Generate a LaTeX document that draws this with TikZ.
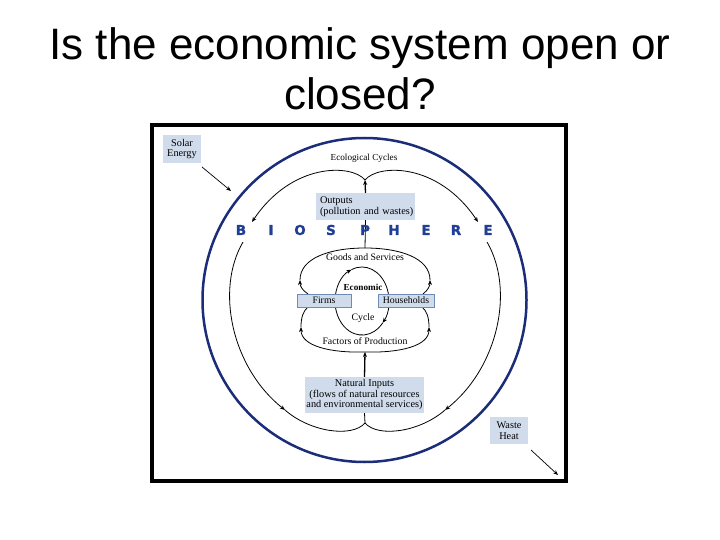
\documentclass[tikz,border=0pt]{standalone}
\usepackage{fontspec}
\setmainfont{Liberation Serif}
\newfontfamily\titlefont{Liberation Sans}
\newfontfamily\biofont{DejaVu Sans}[BoldFeatures={FakeBold=1.5}]
\usetikzlibrary{arrows.meta}
\definecolor{boxfill}{HTML}{D0DCEC}
\definecolor{ringblue}{HTML}{1B2D78}
\definecolor{bioblue}{HTML}{1F3E96}
\definecolor{boxedge}{HTML}{6E8BB5}
\begin{document}
\begin{tikzpicture}[x=1pt,y=-1pt,
  flow/.style={line width=0.8pt},
  heavy/.style={line width=1.3pt},
  tip/.style={-{Stealth[length=5pt,width=4pt]}},
  lbl/.style={font=\fontsize{9.8}{10.5}\selectfont, inner sep=0pt},
  infobox/.style={fill=boxfill, inner sep=0pt, align=center, font=\fontsize{10.3}{10.5}\selectfont},
  ecobox/.style={fill=boxfill, draw=boxedge, line width=0.6pt, inner sep=0pt, font=\fontsize{9.8}{10.5}\selectfont},
  bioletter/.style={font=\biofont\bfseries\fontsize{13.5}{13.5}\selectfont, text=bioblue, inner sep=0pt},
  titletext/.style={font=\titlefont\fontsize{44}{50}\selectfont, inner sep=0pt, anchor=base}]
\useasboundingbox (0,0) rectangle (720,540);
\fill[white] (0,0) rectangle (720,540);

% title
\node[titletext] (title1) at (360,60) {Is the economic system open or};
\node[titletext] (title2) at (360,110) {closed?};

% frame and biosphere ring
\draw[line width=3.5pt] (152,125) rectangle (566,481);
\draw[ringblue, line width=2.5pt] (364.5,300) circle[radius=162];

% key points of the ecological loop
\coordinate (cT) at (365,180);
\coordinate (cB) at (365,423);
\coordinate (aTL) at (252,222);
\coordinate (aTR) at (478,222);
\coordinate (sL) at (243,242);
\coordinate (sR) at (487,242);
\coordinate (aBL) at (285,410);
\coordinate (aBR) at (445,410);
\coordinate (eT) at (365,248);
\coordinate (eB) at (365,352);

% ecological cycle loop
\draw[flow,tip] (cT) .. controls (352,164) and (292,162) .. (aTL);
\draw[flow,tip] (cT) .. controls (378,164) and (438,162) .. (aTR);
\draw[flow,tip] (sL) .. controls (215,290) and (232,368) .. (aBL);
\draw[flow,tip] (sR) .. controls (515,290) and (498,368) .. (aBR);
\draw[flow] (aBL) .. controls (310,432) and (352,438) .. (cB);
\draw[flow] (aBR) .. controls (420,432) and (378,438) .. (cB);

% labels
\node[lbl, font=\fontsize{9.2}{10}\selectfont] (eco) at (364,158) {Ecological Cycles};
\node[infobox, minimum width=99pt, minimum height=27pt, text width=97pt, align=left] (outputs) at (365.5,206.5) {\hspace*{3pt}Outputs\\\hspace*{3pt}(pollution and wastes)};
\draw[heavy,tip] (outputs.north) -- (cT);
\draw[flow] (outputs.south) -- (eT);

% BIOSPHERE
\node[bioletter] (b1) at (241,230) {B};
\node[bioletter] (b2) at (271,230) {I};
\node[bioletter] (b3) at (300,230) {O};
\node[bioletter] (b4) at (331,230) {S};
\node[bioletter] (b5) at (365,230) {P};
\node[bioletter] (b6) at (394,230) {H};
\node[bioletter] (b7) at (426,230) {E};
\node[bioletter] (b8) at (456,230) {R};
\node[bioletter] (b9) at (488,230) {E};

% economic outer loop
\draw[flow,tip] (308,294) .. controls (302,290) and (300,286) .. (300,280);
\draw[flow] (300,280) .. controls (300,258) and (330,248) .. (eT) .. controls (400,248) and (430,258) .. (430,280);
\draw[flow,tip] (423,294) .. controls (428,290) and (430,286) .. (430,280);
\draw[flow,tip] (eB) .. controls (330,353) and (301,346) .. (301,327);
\draw[flow] (301,327) .. controls (301,318) and (303,311) .. (308,307);
\draw[flow,tip] (eB) .. controls (400,353) and (429,346) .. (429,327);
\draw[flow] (429,327) .. controls (429,318) and (427,311) .. (422,307);

% inner economic cycle
\draw[flow,tip] (335,301) arc[start angle=180,end angle=247,x radius=27,y radius=34];
\draw[flow,tip] (351.45,269.7) arc[start angle=247,end angle=400,x radius=27,y radius=34];
\draw[flow] (382.7,322.9) arc[start angle=400,end angle=540,x radius=27,y radius=34];

\node[lbl] (goods) at (365,257) {Goods and Services};
\node[lbl] (factors) at (365,341) {Factors of Production};
\node[lbl, font=\bfseries\fontsize{9.2}{10}\selectfont] (econ) at (363,287) {Economic};
\node[lbl] (cycle) at (363,318) {Cycle};
\node[ecobox, minimum width=54pt, minimum height=13pt] (firms) at (324,300.5) {Firms};
\node[ecobox, minimum width=56pt, minimum height=13pt] (hh) at (406,300.5) {Households};

% natural inputs
\node[infobox, minimum width=119pt, minimum height=36pt] (natin) at (364.5,395) {Natural Inputs\\(flows of natural resources\\and environmental services)};
\draw[heavy,tip] (natin.north) -- (eB);
\draw[flow] (natin.south) -- (cB);

% solar energy and waste heat
\node[infobox, minimum width=38pt, minimum height=28pt] (solar) at (182,149) {Solar\\Energy};
\coordinate (sA) at (202,167);
\coordinate (sB) at (231,191);
\draw[line width=0.7pt,tip] (sA) -- (sB);
\node[infobox, minimum width=38pt, minimum height=27pt] (waste) at (509,430.5) {Waste\\Heat};
\coordinate (wA) at (531,450);
\coordinate (wB) at (558,475);
\draw[line width=0.7pt,tip] (wA) -- (wB);
\end{tikzpicture}
\end{document}
